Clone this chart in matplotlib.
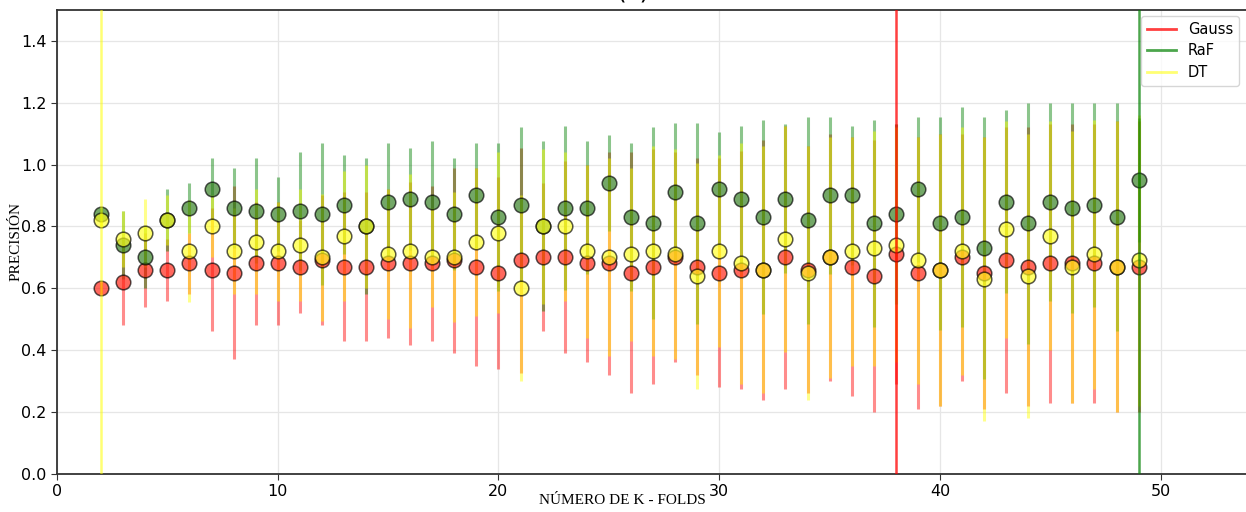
import matplotlib
matplotlib.use("Agg")
import matplotlib.pyplot as plt
import numpy as np

k_folds = list(range(2, 50))

gauss_mean = [0.60, 0.62, 0.66, 0.66, 0.68, 0.66, 0.65, 0.68, 0.68, 0.67, 0.69, 0.67, 0.67, 0.68,
              0.68, 0.68, 0.69, 0.67, 0.65, 0.69, 0.70, 0.70, 0.68, 0.68, 0.65, 0.67, 0.70, 0.67,
              0.65, 0.66, 0.66, 0.70, 0.66, 0.70, 0.67, 0.64, 0.71, 0.65, 0.66, 0.70, 0.65, 0.69,
              0.67, 0.68, 0.68, 0.68, 0.67, 0.67]
gauss_std = [0.02, 0.14, 0.12, 0.10, 0.10, 0.20, 0.28, 0.20, 0.20, 0.15, 0.21, 0.24, 0.24, 0.24,
             0.265, 0.25, 0.30, 0.32, 0.31, 0.365, 0.24, 0.31, 0.32, 0.36, 0.39, 0.38, 0.34, 0.35,
             0.37, 0.385, 0.42, 0.425, 0.40, 0.40, 0.42, 0.44, 0.42, 0.44, 0.44, 0.40, 0.44, 0.43,
             0.45, 0.45, 0.45, 0.45, 0.47, 0.47]

raf_mean = [0.84, 0.74, 0.70, 0.82, 0.86, 0.92, 0.86, 0.85, 0.84, 0.85, 0.84, 0.87, 0.80, 0.88,
            0.89, 0.88, 0.84, 0.90, 0.83, 0.87, 0.80, 0.86, 0.86, 0.94, 0.83, 0.81, 0.91, 0.81,
            0.92, 0.89, 0.83, 0.89, 0.82, 0.90, 0.90, 0.81, 0.84, 0.92, 0.81, 0.83, 0.73, 0.88,
            0.81, 0.88, 0.86, 0.87, 0.83, 0.95]
raf_std = [0.02, 0.11, 0.10, 0.10, 0.08, 0.10, 0.13, 0.17, 0.12, 0.19, 0.23, 0.16, 0.22, 0.19,
           0.165, 0.195, 0.18, 0.17, 0.24, 0.25, 0.275, 0.265, 0.215, 0.155, 0.24, 0.31, 0.225, 0.325,
           0.185, 0.235, 0.315, 0.24, 0.335, 0.255, 0.225, 0.335, 0.29, 0.235, 0.345, 0.356, 0.425, 0.295,
           0.39, 0.32, 0.34, 0.33, 0.37, 0.20]

dt_mean = [0.82, 0.76, 0.78, 0.82, 0.72, 0.80, 0.72, 0.75, 0.72, 0.74, 0.70, 0.77, 0.80, 0.71,
           0.72, 0.70, 0.70, 0.75, 0.78, 0.60, 0.80, 0.80, 0.72, 0.70, 0.71, 0.72, 0.71, 0.64,
           0.72, 0.68, 0.66, 0.76, 0.65, 0.70, 0.72, 0.73, 0.74, 0.69, 0.66, 0.72, 0.63, 0.79,
           0.64, 0.77, 0.67, 0.71, 0.67, 0.69]
dt_std = [0.02, 0.09, 0.11, 0.08, 0.165, 0.10, 0.14, 0.17, 0.16, 0.18, 0.205, 0.21, 0.20, 0.21,
          0.25, 0.16, 0.21, 0.24, 0.26, 0.30, 0.25, 0.24, 0.28, 0.32, 0.28, 0.34, 0.34, 0.365,
          0.31, 0.39, 0.40, 0.365, 0.41, 0.39, 0.37, 0.38, 0.38, 0.40, 0.44, 0.40, 0.46, 0.35,
          0.46, 0.37, 0.44, 0.435, 0.47, 0.47]

best_k = {"Gauss": 38, "RaF": 49, "DT": 2}

series = [
    ("Gauss", gauss_mean, gauss_std, "#ff1a0a", "red"),
    ("RaF", raf_mean, raf_std, "#2a7a18", "green"),
    ("DT", dt_mean, dt_std, "#ffff20", "yellow"),
]

plt.rcParams["font.family"] = ["DejaVu Sans"]
W, H = 1246, 512
fig = plt.figure(figsize=(W / 100, H / 100), dpi=100)
ax = fig.add_axes([57 / W, (512 - 473.7) / H, 1192 / W, (473.7 - 10) / H])

x = np.array(k_folds)
for name, m, s, fc, lc in series:
    ax.errorbar(x, m, yerr=s, fmt="none", ecolor=lc, elinewidth=2.2, alpha=0.45, zorder=2)

for name, m, s, fc, lc in series:
    ax.plot(x, m, "o", linestyle="none", markersize=10.5, markerfacecolor=fc,
            markeredgecolor="black", markeredgewidth=1.1, alpha=0.66, zorder=3)

vline_alpha = {"Gauss": 0.75, "RaF": 0.7, "DT": 0.55}
for name, m, s, fc, lc in series:
    ax.axvline(best_k[name], color=lc, linewidth=1.8, alpha=vline_alpha[name], label=name, zorder=4)

ax.set_xlim(0, 54)
ax.set_ylim(0, 1.5)
ax.set_xticks([0, 10, 20, 30, 40, 50])
ax.set_yticks([0.0, 0.2, 0.4, 0.6, 0.8, 1.0, 1.2, 1.4])
ax.tick_params(labelsize=11.5, length=4, color="#333333")
ax.grid(True, color="#e6e6e6", linewidth=0.9)
ax.set_axisbelow(True)
for sp in ax.spines.values():
    sp.set_color("#333333")
    sp.set_linewidth(1.3)

ax.set_xlabel("NÚMERO DE K - FOLDS", family="Liberation Serif", fontsize=11, labelpad=-2)
ax.xaxis.set_label_coords((622 - 57) / 1192, -0.058)
ax.xaxis.label.set_va("center")
ax.set_ylabel("PRECISIÓN", family="Liberation Serif", fontsize=11, labelpad=-1)

leg = ax.legend(loc="upper right", fontsize=10.5, bbox_to_anchor=(0.9965, 1.0),
                borderaxespad=0.4, handlelength=2.0, labelspacing=0.45)
for line in leg.get_lines():
    line.set_linewidth(2)

fig.text(633 / W, 1 - 3.5 / H, "(c)", ha="center", va="bottom", fontsize=18)

fig.savefig("out.png", dpi=100)
